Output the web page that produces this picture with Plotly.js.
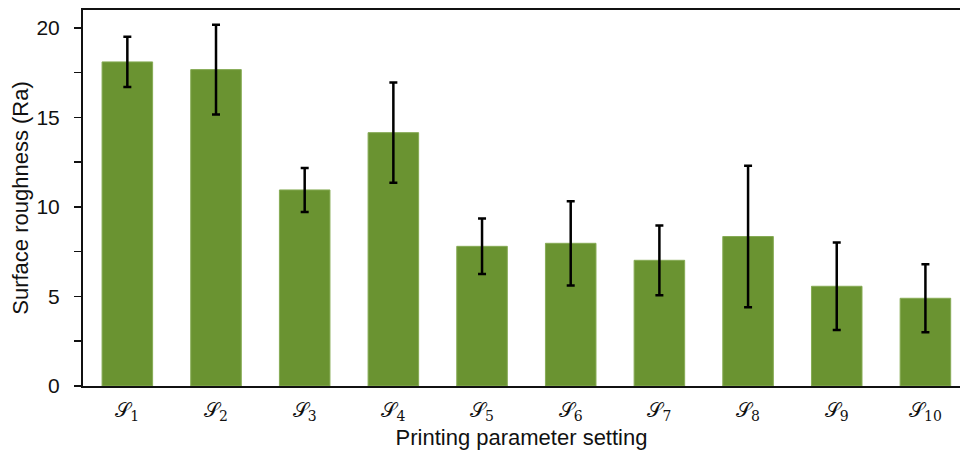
<!DOCTYPE html>
<html>
<head>
<meta charset="utf-8">
<script src="https://cdn.plot.ly/plotly-3.0.1.min.js"></script>
<style>html,body{margin:0;padding:0;background:#fff;}#chart{width:960px;height:456px;}</style>
</head>
<body>
<div id="chart"></div>
<script>
const categories = ['S1','S2','S3','S4','S5','S6','S7','S8','S9','S10'];
const tickLabels = ['𝒮<sub>1</sub>','𝒮<sub>2</sub>','𝒮<sub>3</sub>','𝒮<sub>4</sub>','𝒮<sub>5</sub>','𝒮<sub>6</sub>','𝒮<sub>7</sub>','𝒮<sub>8</sub>','𝒮<sub>9</sub>','𝒮<sub>10</sub>'];
const roughness = [18.1, 17.67, 10.95, 14.15, 7.8, 7.97, 7.02, 8.35, 5.57, 4.9];
const roughnessErr = [1.4, 2.5, 1.23, 2.8, 1.55, 2.35, 1.95, 3.95, 2.44, 1.9];
const yTicks = [0, 5, 10, 15, 20];

const trace = {
  type: 'bar',
  x: categories,
  y: roughness,
  marker: {color: '#6a9331', line: {color: '#86ab55', width: 1}},
  error_y: {type: 'data', array: roughnessErr, visible: true, color: '#000', thickness: 2.5, width: 4},
  hoverinfo: 'skip'
};

const layout = {
  width: 960, height: 456,
  margin: {l: 83, r: 0, t: 10, b: 70},
  paper_bgcolor: '#fff', plot_bgcolor: '#fff',
  bargap: 0.43,
  showlegend: false,
  font: {family: 'Liberation Sans, Arial, sans-serif', color: '#000'},
  xaxis: {
    type: 'category',
    range: [-0.5, 9.39],
    tickvals: categories,
    ticktext: tickLabels,
    tickfont: {size: 20, family: 'DejaVu Serif, serif', color: '#111'},
    ticks: '',
    ticklabelstandoff: 5,
    showline: true, linecolor: '#111', linewidth: 2, mirror: true,
    showgrid: false, zeroline: false,
    title: {text: 'Printing parameter setting', font: {size: 22, color: '#111'}, standoff: 6}
  },
  yaxis: {
    range: [0, 21],
    tickvals: yTicks,
    ticks: 'outside', ticklen: 7, tickwidth: 1.5, tickcolor: '#111',
    minor: {dtick: 2.5, tick0: 0, ticks: 'outside', ticklen: 7, tickwidth: 1.5, tickcolor: '#111', showgrid: false},
    tickfont: {size: 21, color: '#111'},
    ticklabelstandoff: 10,
    showline: true, linecolor: '#111', linewidth: 2,
    showgrid: false, zeroline: false,
    title: {text: 'Surface roughness (Ra)', font: {size: 22, color: '#111'}, standoff: 2}
  }
};

Plotly.newPlot('chart', [trace], layout, {staticPlot: true, displayModeBar: false});
</script>
</body>
</html>
